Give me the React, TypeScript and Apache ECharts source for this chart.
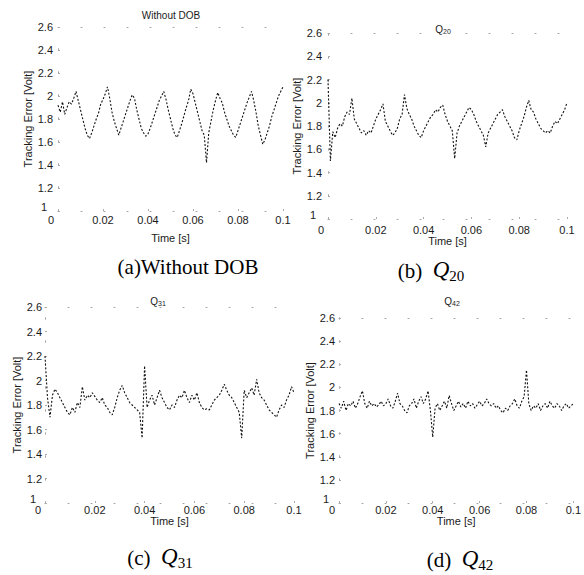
import React, { useEffect, useRef } from "react";
import * as echarts from "echarts";

// ---- data ----
const timeS: number[] = Array.from({ length: 101 }, (_, i) => +(i * 0.001).toFixed(3));

const withoutDOB = [
  1.92, 1.86, 1.95, 1.84, 1.9, 1.95, 1.93, 1.98, 2.04, 1.96,
  1.88, 1.8, 1.72, 1.66, 1.63, 1.68, 1.74, 1.8, 1.85, 1.93,
  1.97, 2.02, 2.08, 1.98, 1.86, 1.78, 1.72, 1.66, 1.72, 1.78,
  1.84, 1.9, 1.96, 2.01, 1.98, 1.88, 1.8, 1.72, 1.68, 1.65,
  1.67, 1.72, 1.78, 1.84, 1.9, 1.96, 2.0, 2.04, 1.97, 1.88,
  1.8, 1.72, 1.66, 1.64, 1.7, 1.76, 1.83, 1.9, 1.96, 2.06,
  2.02, 1.94, 1.86, 1.78, 1.7, 1.66, 1.42, 1.68, 1.78, 1.88,
  1.96, 2.03, 1.98, 1.94, 1.86, 1.8, 1.74, 1.7, 1.66, 1.64,
  1.7, 1.76, 1.82, 1.88, 1.94, 1.99, 2.04, 1.96, 1.86, 1.74,
  1.66, 1.58, 1.62, 1.68, 1.74, 1.82, 1.88, 1.94, 2.0, 2.04,
  2.08,
];

const q20 = [
  2.2, 1.5, 1.75, 1.7, 1.78, 1.82, 1.8, 1.88, 1.92, 1.9,
  2.04, 1.86, 1.82, 1.78, 1.74, 1.76, 1.72, 1.76, 1.74, 1.8,
  1.86, 1.9, 1.94, 1.99, 1.84, 1.8, 1.76, 1.72, 1.74, 1.78,
  1.86, 1.9, 2.07, 1.95, 1.9, 1.86, 1.8, 1.76, 1.72, 1.7,
  1.76, 1.8, 1.84, 1.88, 1.9, 1.94, 1.92, 1.96, 1.98, 1.9,
  1.84, 1.8, 1.76, 1.52, 1.74, 1.8, 1.84, 1.88, 1.92, 1.96,
  1.94, 1.9, 1.84, 1.8, 1.76, 1.72, 1.62, 1.74, 1.78, 1.82,
  1.86, 1.9, 1.92, 1.94, 1.88, 1.84, 1.8, 1.76, 1.7, 1.68,
  1.76, 1.82, 1.88, 1.96, 2.02, 1.94, 1.92, 1.86, 1.82, 1.78,
  1.76, 1.74, 1.76, 1.74, 1.8, 1.84, 1.82, 1.86, 1.9, 1.94,
  2.0,
];

const q31 = [
  2.2, 1.86, 1.7, 1.88, 1.93, 1.9, 1.86, 1.82, 1.78, 1.74,
  1.72, 1.78, 1.74, 1.82, 1.78, 1.95, 1.84, 1.88, 1.86, 1.9,
  1.87, 1.84, 1.82, 1.86, 1.8, 1.78, 1.74, 1.72, 1.78, 1.86,
  1.92, 1.96, 1.9, 1.86, 1.82, 1.8, 1.78, 1.76, 1.74, 1.53,
  2.12, 1.78, 1.84, 1.88, 1.8, 1.86, 1.92, 1.86, 1.82, 1.78,
  1.76, 1.8, 1.78, 1.84, 1.88, 1.86, 1.92, 1.86, 1.82, 1.88,
  1.84, 1.9, 1.82, 1.78, 1.76, 1.77, 1.76, 1.8, 1.84, 1.86,
  1.88, 1.92, 1.97, 1.92, 1.88, 1.86, 1.82, 1.78, 1.74, 1.53,
  1.92, 1.86, 1.9, 1.94, 1.88, 2.01, 1.9, 1.86, 1.84, 1.8,
  1.76, 1.74, 1.72, 1.7, 1.76, 1.8, 1.78, 1.84, 1.88, 1.95,
  1.9,
];

const q42 = [
  1.86, 1.82, 1.88, 1.8, 1.86, 1.84, 1.88, 1.82, 1.86, 1.92,
  1.97, 1.86, 1.82, 1.88, 1.84, 1.86, 1.83, 1.85, 1.88, 1.84,
  1.86, 1.9, 1.84, 1.82, 1.88, 1.95, 1.86, 1.84, 1.8, 1.78,
  1.84, 1.86, 1.9, 1.82, 1.88, 1.92, 1.86, 1.9, 1.97, 1.8,
  1.57, 1.82, 1.86, 1.8, 1.84, 1.88, 1.82, 1.93, 1.86, 1.8,
  1.84, 1.88, 1.83, 1.86, 1.82, 1.88, 1.84, 1.86, 1.82, 1.85,
  1.88, 1.84, 1.86, 1.9, 1.86, 1.84, 1.86, 1.82, 1.84, 1.8,
  1.78, 1.82, 1.8, 1.84, 1.86, 1.9, 1.84, 1.82, 1.88, 1.92,
  2.15, 1.86, 1.8, 1.84, 1.82, 1.86, 1.8, 1.84, 1.86, 1.82,
  1.88, 1.84, 1.82, 1.86, 1.84, 1.8, 1.84, 1.86, 1.82, 1.84,
  1.86,
];

const seriesValues = [withoutDOB, q20, q31, q42];
const panelTitles = ["Without DOB", "{q|Q}{s|20}", "{q|Q}{s|31}", "{q|Q}{s|42}"];
const captionTexts = [
  "{p|(a)Without DOB}",
  "{p|(b)  }{q|Q}{s|20}",
  "{p|(c)  }{q|Q}{s|31}",
  "{p|(d)  }{q|Q}{s|42}",
];
const xAxisName = "Time [s]";
const yAxisName = "Tracking Error [Volt]";
const xMin = 0, xMax = 0.1, xStep = 0.02;
const yMin = 1, yMax = 2.6, yStep = 0.2;

// ---- layout (pixels) ----
const grids = [
  { left: 58, top: 27, width: 225, height: 184 },
  { left: 328, top: 33, width: 239, height: 186 },
  { left: 45, top: 307, width: 249, height: 196 },
  { left: 339, top: 318, width: 241, height: 185 },
];
const yLabelMargin = [5, 6, 3, 4];
const xLabelMargin = [3, 5, 1, 1];
const xNameGap = [21, 15, 9, 11];
const yNameGap = [22, 24, 22, 21];
const titlePos = [[171, 15], [443, 28], [158, 300], [452, 300]];
const captionPos = [[188, 264], [431, 268], [160, 555], [460, 557]];

const FONT = "'Liberation Sans', Arial, Helvetica, sans-serif";
const SERIF = "'Liberation Serif', 'Times New Roman', serif";
const TXT = "#1a1a1a";
const frameLine = { show: true, lineStyle: { color: "#a0a0a0", width: 1, type: [1, 22] as any } };

export default function App() {
  const ref = useRef<HTMLDivElement>(null);

  useEffect(() => {
    document.body.style.margin = "0";
    if (!ref.current) return;
    const chart = echarts.init(ref.current, undefined, { renderer: "svg" });

    const xAxes: any[] = [];
    const yAxes: any[] = [];
    const series: any[] = [];

    grids.forEach((g, i) => {
      xAxes[i] = {
        type: "value",
        gridIndex: i,
        min: xMin,
        max: xMax,
        interval: xStep,
        name: xAxisName,
        nameLocation: "middle",
        nameGap: xNameGap[i],
        nameTextStyle: { fontFamily: FONT, fontSize: 11, color: TXT },
        axisLine: frameLine,
        axisTick: { show: true, length: 2, inside: true, lineStyle: { color: "#aaa" } },
        splitLine: { show: false },
        axisLabel: {
          margin: xLabelMargin[i],
          fontFamily: FONT,
          fontSize: 11,
          color: TXT,
          formatter: (v: number) => (v === 0 ? "{z|0}" : String(+v.toFixed(2))),
          rich: { z: { fontFamily: FONT, fontSize: 11, color: TXT, padding: [0, 14, 0, 0] } },
        },
      };
      xAxes[i + 4] = {
        type: "value",
        gridIndex: i,
        position: "top",
        min: xMin,
        max: xMax,
        interval: xStep,
        axisLine: frameLine,
        axisTick: { show: false },
        axisLabel: { show: false },
        splitLine: { show: false },
      };
      yAxes[i] = {
        type: "value",
        gridIndex: i,
        min: yMin,
        max: yMax,
        interval: yStep,
        name: yAxisName,
        nameLocation: "middle",
        nameRotate: 90,
        nameGap: yNameGap[i],
        nameTextStyle: { fontFamily: FONT, fontSize: 11, color: TXT },
        axisLine: frameLine,
        axisTick: { show: true, length: 2, inside: true, lineStyle: { color: "#aaa" } },
        splitLine: { show: false },
        axisLabel: {
          margin: yLabelMargin[i],
          fontFamily: FONT,
          fontSize: 11,
          color: TXT,
          formatter: (v: number) => (Math.abs(v - 1) < 1e-9 ? "{o|1}" : String(+v.toFixed(1))),
          rich: { o: { fontFamily: FONT, fontSize: 11, color: TXT, padding: [0, 6, 8, 0] } },
        },
      };
      yAxes[i + 4] = {
        type: "value",
        gridIndex: i,
        position: "right",
        min: yMin,
        max: yMax,
        interval: yStep,
        axisLine: frameLine,
        axisTick: { show: false },
        axisLabel: { show: false },
        splitLine: { show: false },
      };
      series.push({
        type: "line",
        xAxisIndex: i,
        yAxisIndex: i,
        data: timeS.map((t, j) => [t, seriesValues[i][j]]),
        showSymbol: false,
        symbol: "none",
        lineStyle: { color: "#111", width: 1.1, type: [2, 1.8] },
        silent: true,
      });
    });

    const graphics: any[] = [];
    panelTitles.forEach((t, i) => {
      graphics.push({
        type: "text",
        x: titlePos[i][0],
        y: titlePos[i][1],
        style: {
          text: t,
          align: "center",
          verticalAlign: "middle",
          fontFamily: FONT,
          fontSize: 10,
          fill: TXT,
          rich: {
            q: { fontFamily: FONT, fontSize: 10, fill: TXT, lineHeight: 12, verticalAlign: "bottom" },
            s: { fontFamily: FONT, fontSize: 7, fill: TXT, lineHeight: 12, verticalAlign: "bottom", padding: [0, 0, -1, 0] },
          },
        },
      });
    });
    captionTexts.forEach((t, i) => {
      graphics.push({
        type: "text",
        x: captionPos[i][0],
        y: captionPos[i][1],
        style: {
          text: t,
          align: "center",
          verticalAlign: "middle",
          fill: "#000",
          rich: {
            p: { fontFamily: SERIF, fontSize: 21, fill: "#000", lineHeight: 26, verticalAlign: "bottom" },
            q: { fontFamily: SERIF, fontSize: 23, fontStyle: "italic", fill: "#000", lineHeight: 26, verticalAlign: "bottom" },
            s: { fontFamily: SERIF, fontSize: 15, fill: "#000", lineHeight: 26, verticalAlign: "bottom", padding: [0, 0, -2, 0] },
          },
        },
      });
    });

    chart.setOption({
      animation: false,
      backgroundColor: "#ffffff",
      textStyle: { fontFamily: FONT },
      grid: grids.map((g) => ({ ...g, containLabel: false })),
      xAxis: xAxes,
      yAxis: yAxes,
      series,
      graphic: graphics,
    });

    return () => chart.dispose();
  }, []);

  return <div ref={ref} style={{ width: 584, height: 575 }} />;
}
